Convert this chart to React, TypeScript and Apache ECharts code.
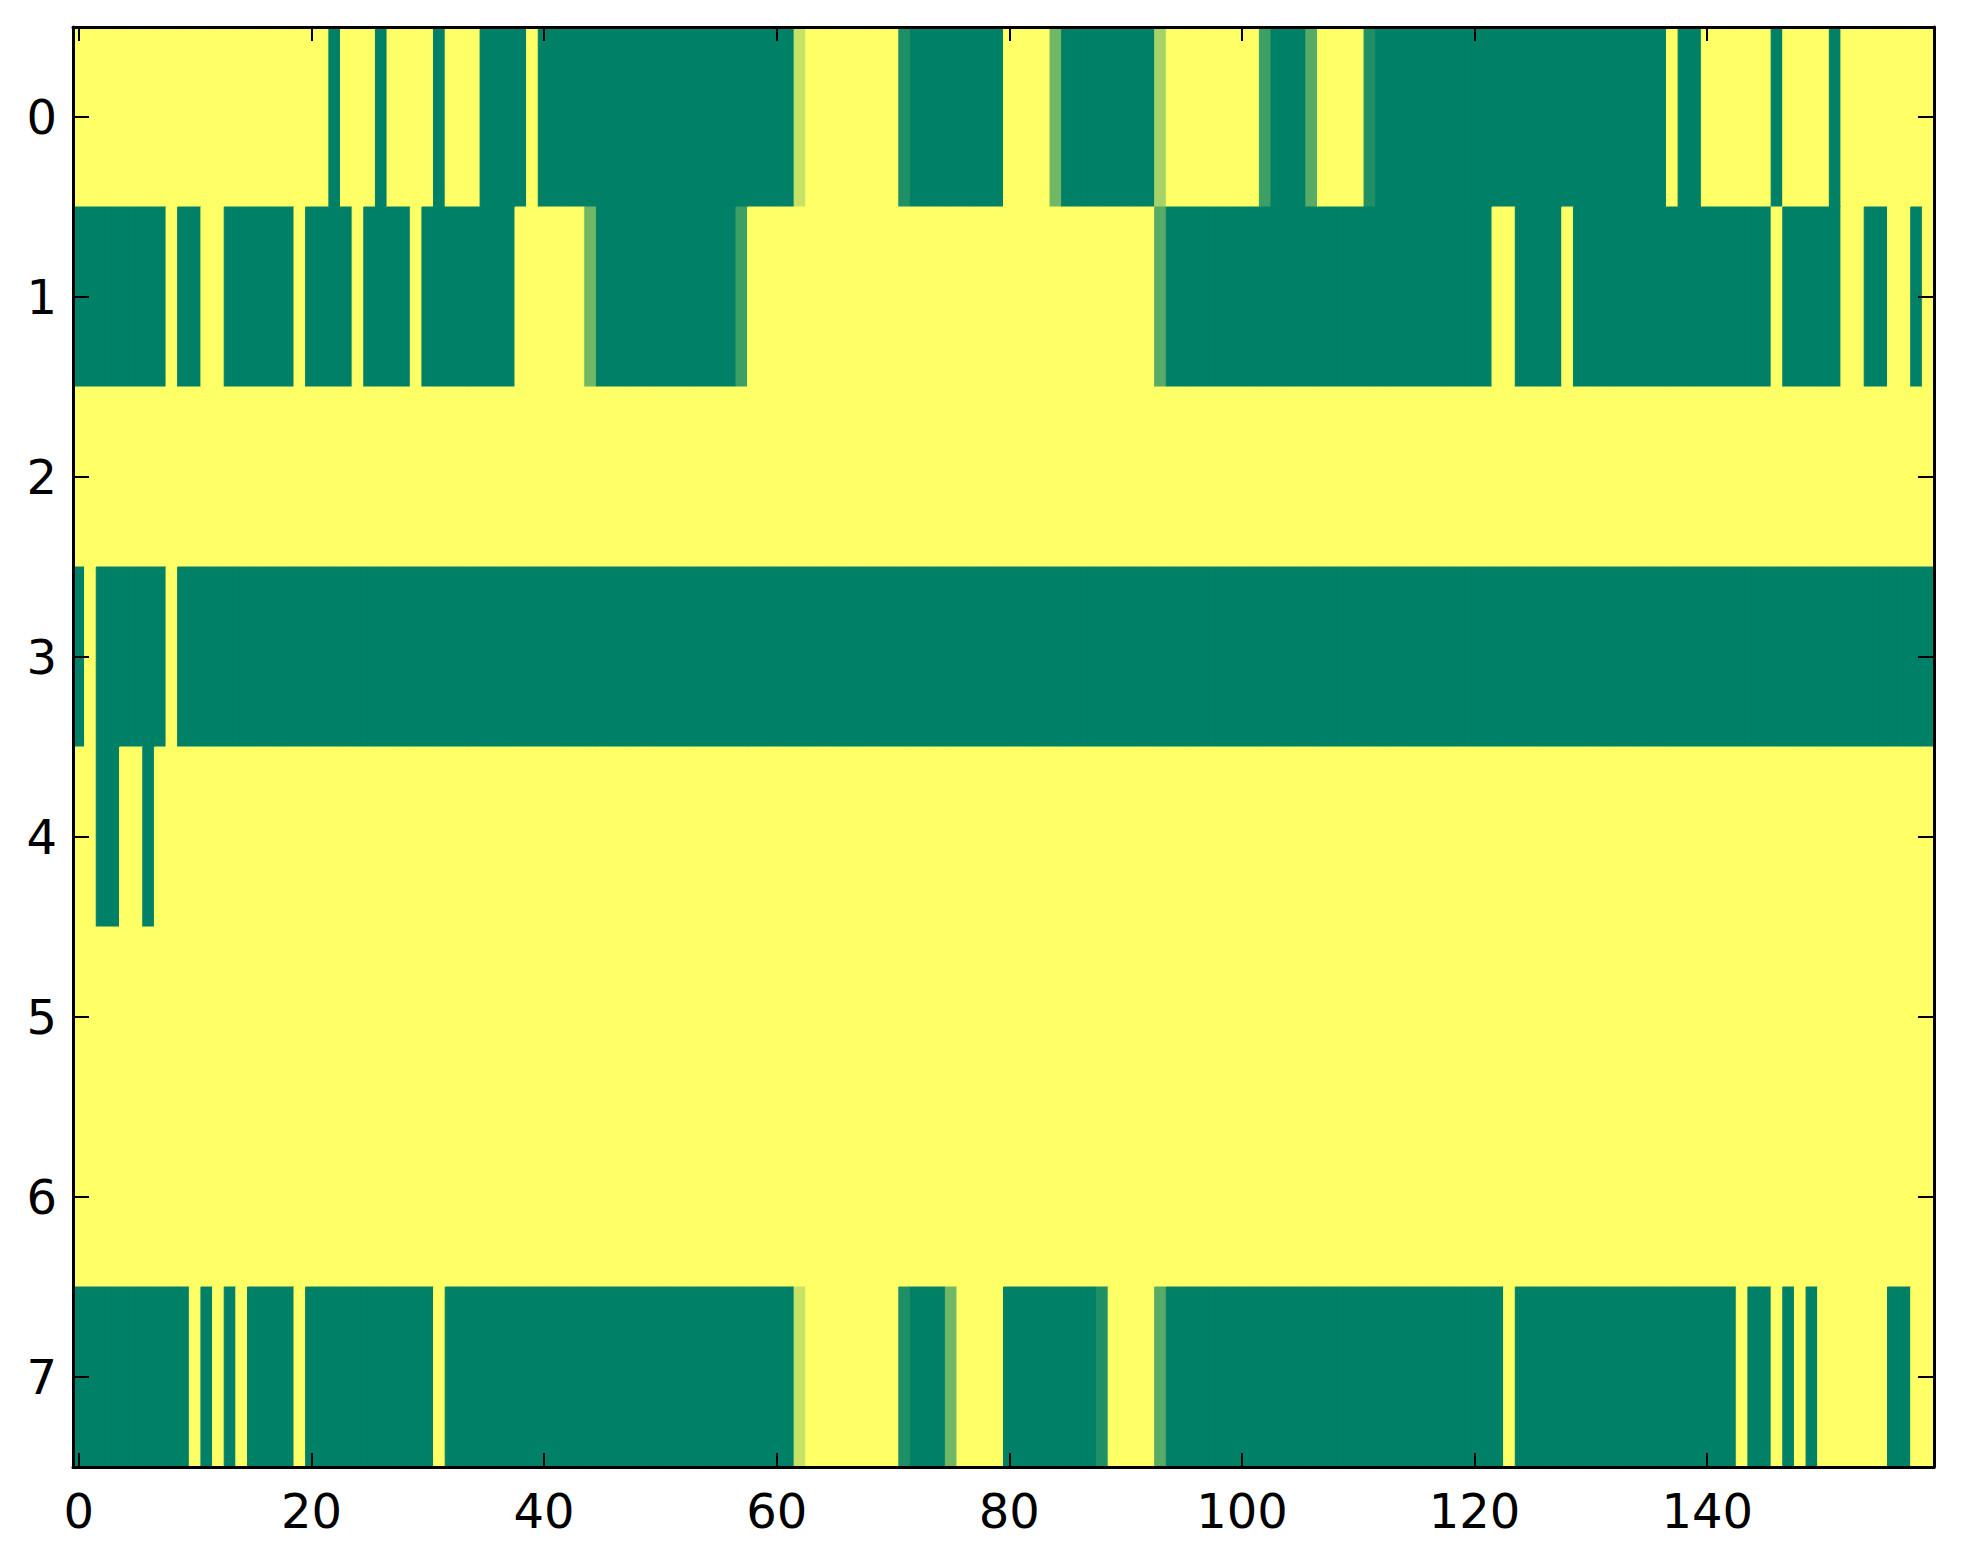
import React, { useEffect, useRef } from "react";
import * as echarts from "echarts";

// Column indices (0..159) and row indices (0..7)
const colLabels: string[] = Array.from({ length: 160 }, (_, i) => String(i));
const rowLabels: string[] = ["0", "1", "2", "3", "4", "5", "6", "7"];
const xTickStep = 20;

const row0 = [
  1, 1, 1, 1, 1, 1, 1, 1, 1, 1,
  1, 1, 1, 1, 1, 1, 1, 1, 1, 1,
  1, 1, 0, 1, 1, 1, 0, 1, 1, 1,
  1, 0, 1, 1, 1, 0, 0, 0, 0, 1,
  0, 0, 0, 0, 0, 0, 0, 0, 0, 0,
  0, 0, 0, 0, 0, 0, 0, 0, 0, 0,
  0, 0, 0.78, 1, 1, 1, 1, 1, 1, 1,
  1, 0.12, 0, 0, 0, 0, 0, 0, 0, 0,
  1, 1, 1, 1, 0.44, 0, 0, 0, 0, 0,
  0, 0, 0, 0.65, 1, 1, 1, 1, 1, 1,
  1, 1, 0.24, 0, 0, 0, 0.34, 1, 1, 1,
  1, 0.12, 0, 0, 0, 0, 0, 0, 0, 0,
  0, 0, 0, 0, 0, 0, 0, 0, 0, 0,
  0, 0, 0, 0, 0, 0, 0, 1, 0, 0,
  1, 1, 1, 1, 1, 1, 0, 1, 1, 1,
  1, 0, 1, 1, 1, 1, 1, 1, 1, 1,
];

const row1 = [
  0, 0, 0, 0, 0, 0, 0, 0, 1, 0,
  0, 1, 1, 0, 0, 0, 0, 0, 0, 1,
  0, 0, 0, 0, 1, 0, 0, 0, 0, 1,
  0, 0, 0, 0, 0, 0, 0, 0, 1, 1,
  1, 1, 1, 1, 0.44, 0, 0, 0, 0, 0,
  0, 0, 0, 0, 0, 0, 0, 0.24, 1, 1,
  1, 1, 1, 1, 1, 1, 1, 1, 1, 1,
  1, 1, 1, 1, 1, 1, 1, 1, 1, 1,
  1, 1, 1, 1, 1, 1, 1, 1, 1, 1,
  1, 1, 1, 0.34, 0, 0, 0, 0, 0, 0,
  0, 0, 0, 0, 0, 0, 0, 0, 0, 0,
  0, 0, 0, 0, 0, 0, 0, 0, 0, 0,
  0, 0, 1, 1, 0, 0, 0, 0, 1, 0,
  0, 0, 0, 0, 0, 0, 0, 0, 0, 0,
  0, 0, 0, 0, 0, 0, 1, 0, 0, 0,
  0, 0, 1, 1, 0, 0, 1, 1, 0, 1,
];

const row2 = [
  1, 1, 1, 1, 1, 1, 1, 1, 1, 1,
  1, 1, 1, 1, 1, 1, 1, 1, 1, 1,
  1, 1, 1, 1, 1, 1, 1, 1, 1, 1,
  1, 1, 1, 1, 1, 1, 1, 1, 1, 1,
  1, 1, 1, 1, 1, 1, 1, 1, 1, 1,
  1, 1, 1, 1, 1, 1, 1, 1, 1, 1,
  1, 1, 1, 1, 1, 1, 1, 1, 1, 1,
  1, 1, 1, 1, 1, 1, 1, 1, 1, 1,
  1, 1, 1, 1, 1, 1, 1, 1, 1, 1,
  1, 1, 1, 1, 1, 1, 1, 1, 1, 1,
  1, 1, 1, 1, 1, 1, 1, 1, 1, 1,
  1, 1, 1, 1, 1, 1, 1, 1, 1, 1,
  1, 1, 1, 1, 1, 1, 1, 1, 1, 1,
  1, 1, 1, 1, 1, 1, 1, 1, 1, 1,
  1, 1, 1, 1, 1, 1, 1, 1, 1, 1,
  1, 1, 1, 1, 1, 1, 1, 1, 1, 1,
];

const row3 = [
  0, 1, 0, 0, 0, 0, 0, 0, 1, 0,
  0, 0, 0, 0, 0, 0, 0, 0, 0, 0,
  0, 0, 0, 0, 0, 0, 0, 0, 0, 0,
  0, 0, 0, 0, 0, 0, 0, 0, 0, 0,
  0, 0, 0, 0, 0, 0, 0, 0, 0, 0,
  0, 0, 0, 0, 0, 0, 0, 0, 0, 0,
  0, 0, 0, 0, 0, 0, 0, 0, 0, 0,
  0, 0, 0, 0, 0, 0, 0, 0, 0, 0,
  0, 0, 0, 0, 0, 0, 0, 0, 0, 0,
  0, 0, 0, 0, 0, 0, 0, 0, 0, 0,
  0, 0, 0, 0, 0, 0, 0, 0, 0, 0,
  0, 0, 0, 0, 0, 0, 0, 0, 0, 0,
  0, 0, 0, 0, 0, 0, 0, 0, 0, 0,
  0, 0, 0, 0, 0, 0, 0, 0, 0, 0,
  0, 0, 0, 0, 0, 0, 0, 0, 0, 0,
  0, 0, 0, 0, 0, 0, 0, 0, 0, 0,
];

const row4 = [
  1, 1, 0, 0, 1, 1, 0, 1, 1, 1,
  1, 1, 1, 1, 1, 1, 1, 1, 1, 1,
  1, 1, 1, 1, 1, 1, 1, 1, 1, 1,
  1, 1, 1, 1, 1, 1, 1, 1, 1, 1,
  1, 1, 1, 1, 1, 1, 1, 1, 1, 1,
  1, 1, 1, 1, 1, 1, 1, 1, 1, 1,
  1, 1, 1, 1, 1, 1, 1, 1, 1, 1,
  1, 1, 1, 1, 1, 1, 1, 1, 1, 1,
  1, 1, 1, 1, 1, 1, 1, 1, 1, 1,
  1, 1, 1, 1, 1, 1, 1, 1, 1, 1,
  1, 1, 1, 1, 1, 1, 1, 1, 1, 1,
  1, 1, 1, 1, 1, 1, 1, 1, 1, 1,
  1, 1, 1, 1, 1, 1, 1, 1, 1, 1,
  1, 1, 1, 1, 1, 1, 1, 1, 1, 1,
  1, 1, 1, 1, 1, 1, 1, 1, 1, 1,
  1, 1, 1, 1, 1, 1, 1, 1, 1, 1,
];

const row5 = [
  1, 1, 1, 1, 1, 1, 1, 1, 1, 1,
  1, 1, 1, 1, 1, 1, 1, 1, 1, 1,
  1, 1, 1, 1, 1, 1, 1, 1, 1, 1,
  1, 1, 1, 1, 1, 1, 1, 1, 1, 1,
  1, 1, 1, 1, 1, 1, 1, 1, 1, 1,
  1, 1, 1, 1, 1, 1, 1, 1, 1, 1,
  1, 1, 1, 1, 1, 1, 1, 1, 1, 1,
  1, 1, 1, 1, 1, 1, 1, 1, 1, 1,
  1, 1, 1, 1, 1, 1, 1, 1, 1, 1,
  1, 1, 1, 1, 1, 1, 1, 1, 1, 1,
  1, 1, 1, 1, 1, 1, 1, 1, 1, 1,
  1, 1, 1, 1, 1, 1, 1, 1, 1, 1,
  1, 1, 1, 1, 1, 1, 1, 1, 1, 1,
  1, 1, 1, 1, 1, 1, 1, 1, 1, 1,
  1, 1, 1, 1, 1, 1, 1, 1, 1, 1,
  1, 1, 1, 1, 1, 1, 1, 1, 1, 1,
];

const row6 = [
  1, 1, 1, 1, 1, 1, 1, 1, 1, 1,
  1, 1, 1, 1, 1, 1, 1, 1, 1, 1,
  1, 1, 1, 1, 1, 1, 1, 1, 1, 1,
  1, 1, 1, 1, 1, 1, 1, 1, 1, 1,
  1, 1, 1, 1, 1, 1, 1, 1, 1, 1,
  1, 1, 1, 1, 1, 1, 1, 1, 1, 1,
  1, 1, 1, 1, 1, 1, 1, 1, 1, 1,
  1, 1, 1, 1, 1, 1, 1, 1, 1, 1,
  1, 1, 1, 1, 1, 1, 1, 1, 1, 1,
  1, 1, 1, 1, 1, 1, 1, 1, 1, 1,
  1, 1, 1, 1, 1, 1, 1, 1, 1, 1,
  1, 1, 1, 1, 1, 1, 1, 1, 1, 1,
  1, 1, 1, 1, 1, 1, 1, 1, 1, 1,
  1, 1, 1, 1, 1, 1, 1, 1, 1, 1,
  1, 1, 1, 1, 1, 1, 1, 1, 1, 1,
  1, 1, 1, 1, 1, 1, 1, 1, 1, 1,
];

const row7 = [
  0, 0, 0, 0, 0, 0, 0, 0, 0, 0,
  1, 0, 1, 0, 1, 0, 0, 0, 0, 1,
  0, 0, 0, 0, 0, 0, 0, 0, 0, 0,
  0, 1, 0, 0, 0, 0, 0, 0, 0, 0,
  0, 0, 0, 0, 0, 0, 0, 0, 0, 0,
  0, 0, 0, 0, 0, 0, 0, 0, 0, 0,
  0, 0, 0.78, 1, 1, 1, 1, 1, 1, 1,
  1, 0.12, 0, 0, 0, 0.44, 1, 1, 1, 1,
  0, 0, 0, 0, 0, 0, 0, 0, 0.12, 1,
  1, 1, 1, 0.34, 0, 0, 0, 0, 0, 0,
  0, 0, 0, 0, 0, 0, 0, 0, 0, 0,
  0, 0, 0, 0, 0, 0, 0, 0, 0, 0,
  0, 0, 0, 1, 0, 0, 0, 0, 0, 0,
  0, 0, 0, 0, 0, 0, 0, 0, 0, 0,
  0, 0, 0, 1, 0, 0, 1, 0, 1, 0,
  1, 1, 1, 1, 1, 1, 0, 0, 1, 1,
];

const rows = [row0, row1, row2, row3, row4, row5, row6, row7];

// summer colormap endpoints (r, g, b)
const colorLow = [0, 128, 102];
const colorHigh = [255, 255, 102];

function summer(v: number): string {
  const c = colorLow.map((lo, i) => Math.round(lo + (colorHigh[i] - lo) * v));
  return `rgb(${c[0]},${c[1]},${c[2]})`;
}

export default function App() {
  const ref = useRef<HTMLDivElement>(null);

  useEffect(() => {
    if (!ref.current) return;
    const chart = echarts.init(ref.current, undefined, { renderer: "svg" });

    const data: number[][] = [];
    rows.forEach((r, y) => r.forEach((v, x) => data.push([x, y, v])));

    const font = "DejaVu Sans";
    const tickShow = (i: number) => i % xTickStep === 0;

    const baseX = {
      type: "category" as const,
      data: colLabels,
      boundaryGap: true,
      z: 10,
      axisLine: { show: true, onZero: false, lineStyle: { color: "#000", width: 3 } },
      axisTick: {
        show: true,
        inside: true,
        length: 14,
        alignWithLabel: true,
        interval: tickShow,
        lineStyle: { color: "#000", width: 2 },
      },
      splitLine: { show: false },
    };
    const baseY = {
      type: "category" as const,
      data: rowLabels,
      inverse: true,
      boundaryGap: true,
      z: 10,
      axisLine: { show: true, onZero: false, lineStyle: { color: "#000", width: 3 } },
      axisTick: {
        show: true,
        inside: true,
        length: 16,
        alignWithLabel: true,
        lineStyle: { color: "#000", width: 2 },
      },
      splitLine: { show: false },
    };

    chart.setOption({
      animation: false,
      backgroundColor: "#ffffff",
      grid: { left: 73, right: 29, top: 27, bottom: 97, containLabel: false },
      xAxis: [
        {
          ...baseX,
          position: "bottom",
          axisLabel: {
            show: true,
            interval: tickShow,
            fontSize: 48,
            fontFamily: font,
            color: "#000",
            margin: 20,
          },
        },
        { ...baseX, position: "top", axisLabel: { show: false } },
      ],
      yAxis: [
        {
          ...baseY,
          position: "left",
          axisLabel: {
            show: true,
            fontSize: 48,
            fontFamily: font,
            color: "#000",
            margin: 16,
          },
        },
        { ...baseY, position: "right", axisLabel: { show: false } },
      ],
      series: [
        {
          type: "custom",
          xAxisIndex: 0,
          yAxisIndex: 0,
          data,
          encode: { x: 0, y: 1 },
          silent: true,
          renderItem: (params: any, api: any) => {
            const x = api.value(0);
            const y = api.value(1);
            const v = api.value(2);
            const center = api.coord([x, y]);
            const size = api.size([1, 1]);
            const col = summer(v);
            return {
              type: "rect",
              shape: {
                x: center[0] - size[0] / 2,
                y: center[1] - size[1] / 2,
                width: size[0],
                height: size[1],
              },
              style: { fill: col, stroke: col, lineWidth: 1 },
            };
          },
        },
      ],
    });

    return () => chart.dispose();
  }, []);

  return (
    <div
      ref={ref}
      style={{ position: "fixed", left: 0, top: 0, width: 1963, height: 1564, background: "#fff" }}
    />
  );
}
